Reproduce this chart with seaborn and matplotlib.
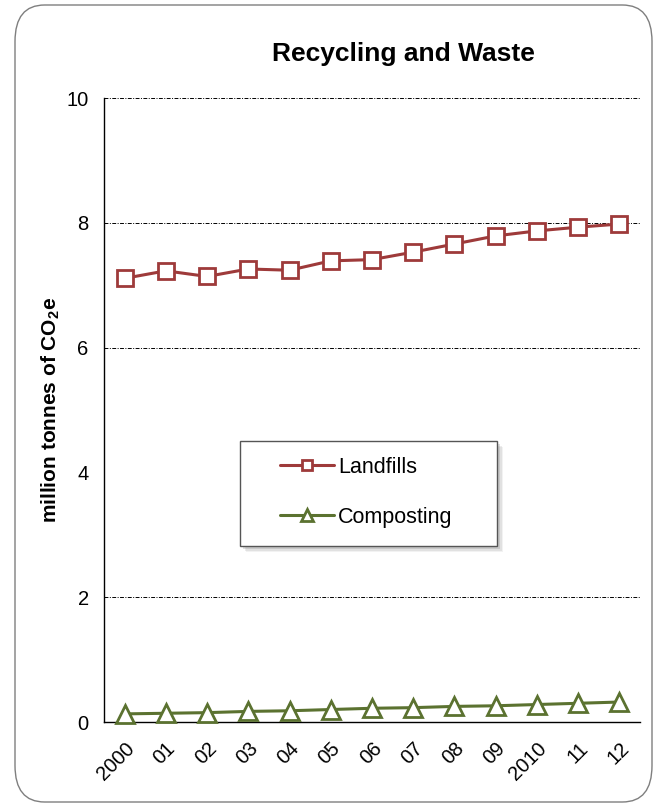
import numpy as np
import pandas as pd
import matplotlib
matplotlib.use("Agg")
import matplotlib.pyplot as plt
import seaborn as sns
from matplotlib.patches import FancyBboxPatch, Rectangle
from matplotlib.ticker import FixedLocator, NullFormatter

years = [2000, 2001, 2002, 2003, 2004, 2005, 2006, 2007, 2008, 2009, 2010, 2011, 2012]
year_labels = ["2000", "01", "02", "03", "04", "05", "06", "07", "08", "09", "2010", "11", "12"]
landfills = [7.11, 7.23, 7.14, 7.26, 7.24, 7.39, 7.41, 7.53, 7.66, 7.79, 7.87, 7.93, 7.98]
composting = [0.13, 0.14, 0.15, 0.17, 0.18, 0.20, 0.22, 0.23, 0.25, 0.26, 0.28, 0.30, 0.32]
y_major = [0, 2, 4, 6, 8, 10]
y_minor = [1, 3, 5, 7, 9]
grid_levels = [2, 6, 8, 10]

sns.set_style("white")
plt.rcParams['font.family'] = ['Liberation Sans', 'DejaVu Sans']
plt.rcParams['text.color'] = 'black'
plt.rcParams['axes.labelcolor'] = 'black'
plt.rcParams['xtick.color'] = 'black'
plt.rcParams['ytick.color'] = 'black'
plt.rcParams['mathtext.fontset'] = 'custom'
plt.rcParams['mathtext.rm'] = 'Liberation Sans'
plt.rcParams['mathtext.bf'] = 'Liberation Sans:bold'

red = "#9E3A3A"
green = "#5B7230"

df = pd.DataFrame({
    "year": years * 2,
    "value": landfills + composting,
    "series": ["Landfills"] * len(years) + ["Composting"] * len(years),
})

fig = plt.figure(figsize=(6.57, 8.10), dpi=100)
W, H = 657, 810
ax = fig.add_axes([104 / W, 1 - 722 / H, (640 - 104) / W, (722 - 98) / H])

frame = FancyBboxPatch((15 / W, 8 / H), (652 - 15) / W, (805 - 8) / H,
                       boxstyle="round,pad=0,rounding_size=0.045",
                       transform=fig.transFigure, facecolor="white",
                       edgecolor="#7f7f7f", linewidth=1.0, zorder=-10)
fig.patches.append(frame)
ax.set_facecolor("none")

for lvl in grid_levels:
    ax.axhline(lvl, color="black", linestyle=(0, (4, 1.5, 1, 1.5)),
               linewidth=0.7, zorder=1)

sns.lineplot(data=df[df.series == "Landfills"], x="year", y="value", ax=ax,
             color=red, linewidth=2.2, marker="s", markersize=12,
             markerfacecolor="white", markeredgecolor=red, markeredgewidth=2.0,
             label="Landfills", zorder=3, clip_on=False)
sns.lineplot(data=df[df.series == "Composting"], x="year", y="value", ax=ax,
             color=green, linewidth=2.2, marker="^", markersize=13,
             markerfacecolor="white", markeredgecolor=green, markeredgewidth=2.0,
             label="Composting", zorder=3, clip_on=False)

ax.set_xlim(1999.5, 2012.5)
ax.set_ylim(0, 10)
ax.grid(False)

for s in ["top", "right"]:
    ax.spines[s].set_visible(False)
for s in ["left", "bottom"]:
    ax.spines[s].set_color("black")
    ax.spines[s].set_linewidth(1.0)

ax.yaxis.set_major_locator(FixedLocator(y_major))
ax.yaxis.set_minor_locator(FixedLocator(y_minor))
ax.tick_params(axis="y", which="both", direction="out", length=6, width=1,
               color="black", labelsize=14.5, pad=5)

ax.set_xticks(years)
ax.set_xticklabels(year_labels, rotation=45, ha="right", rotation_mode="anchor",
                   fontsize=14.5)
ax.xaxis.set_minor_locator(FixedLocator(np.arange(1999.5, 2013, 1.0)))
ax.xaxis.set_minor_formatter(NullFormatter())
ax.tick_params(axis="x", which="major", length=0, pad=12)
ax.tick_params(axis="x", which="minor", direction="out", length=7, width=1, color="black")

ax.set_xlabel("")
ax.set_ylabel(r"million tonnes of CO$_\mathbf{2}$e", fontsize=15,
              fontweight="bold", labelpad=3)

fig.text(403 / W, 1 - 54 / H, "Recycling and Waste", ha="center", va="center",
         fontsize=19, fontweight="bold")

lx0, lx1, ly0, ly1 = 240, 497, 441, 546
def ax_xy(px, py):
    return ((px - 104) / (640 - 104), (722 - py) / (722 - 98))
bx, by = ax_xy(lx0, ly1)
bw = (lx1 - lx0) / (640 - 104)
bh = (ly1 - ly0) / (722 - 98)
for i, a in enumerate([0.10, 0.15, 0.25]):
    off = (6 - i * 1.5)
    sx, sy = ax_xy(lx0 + off, ly1 + off)
    ax.add_patch(Rectangle((sx, sy), bw, bh, transform=ax.transAxes,
                           facecolor="#808080", alpha=a, edgecolor="none", zorder=5))
ax.add_patch(Rectangle((bx, by), bw, bh, transform=ax.transAxes,
                       facecolor="white", edgecolor="#555555", linewidth=1.0, zorder=6))
cx, cy = ax_xy((lx0 + lx1) / 2 - 2, (ly0 + ly1) / 2 - 1)
leg = ax.legend(loc="center", bbox_to_anchor=(cx, cy), frameon=False,
                fontsize=15.5, handlelength=2.5, handletextpad=0.2,
                labelspacing=1.35, markerscale=0.62)
leg.set_zorder(7)

fig.savefig("out.png", dpi=100)
